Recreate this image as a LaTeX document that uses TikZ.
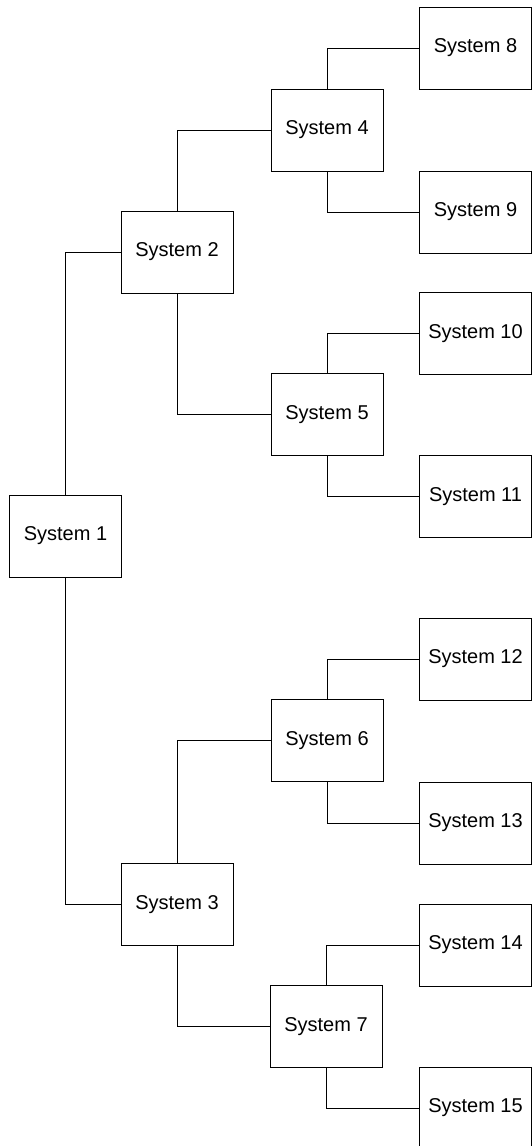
\documentclass[tikz,border=0pt]{standalone}
\usepackage{fontspec}
\setmainfont{Liberation Sans}
\usetikzlibrary{positioning}

\begin{document}
\begin{tikzpicture}[
    x=1pt, y=-1pt,
    sysbox/.style={
        draw,
        line width=0.9pt,
        minimum width=112pt,
        minimum height=82pt,
        inner sep=0pt,
        font=\fontsize{20}{24}\selectfont
    },
    link/.style={
        line width=0.9pt
    }
]
\useasboundingbox (0,0) rectangle (532,1146);

% Top system (left)
\node[sysbox] (s1) at (65.5,536) {System 1};

% Second level
\node[sysbox] (s2) at (177,252) {System 2};
\node[sysbox] (s3) at (177,904.5) {System 3};

% Third level
\node[sysbox] (s4) at (327,130) {System 4};
\node[sysbox] (s5) at (327,414.5) {System 5};
\node[sysbox] (s6) at (327,740.5) {System 6};
\node[sysbox] (s7) at (326,1026.5) {System 7};

% Leaf systems (right)
\node[sysbox] (s8) at (475.5,48) {System 8};
\node[sysbox] (s9) at (475.5,212) {System 9};
\node[sysbox] (s10) at (475.5,333.5) {System 10};
\node[sysbox] (s11) at (475.5,496.5) {System 11};
\node[sysbox] (s12) at (475.5,659) {System 12};
\node[sysbox] (s13) at (475.5,823) {System 13};
\node[sysbox] (s14) at (475.5,945) {System 14};
\node[sysbox] (s15) at (475.5,1108) {System 15};

% Connectors
\draw[link] (s1.north) |- (s2.west);
\draw[link] (s1.south) |- (s3.west);
\draw[link] (s2.north) |- (s4.west);
\draw[link] (s2.south) |- (s5.west);
\draw[link] (s3.north) |- (s6.west);
\draw[link] (s3.south) |- (s7.west);
\draw[link] (s4.north) |- (s8.west);
\draw[link] (s4.south) |- (s9.west);
\draw[link] (s5.north) |- (s10.west);
\draw[link] (s5.south) |- (s11.west);
\draw[link] (s6.north) |- (s12.west);
\draw[link] (s6.south) |- (s13.west);
\draw[link] (s7.north) |- (s14.west);
\draw[link] (s7.south) |- (s15.west);

\end{tikzpicture}
\end{document}
